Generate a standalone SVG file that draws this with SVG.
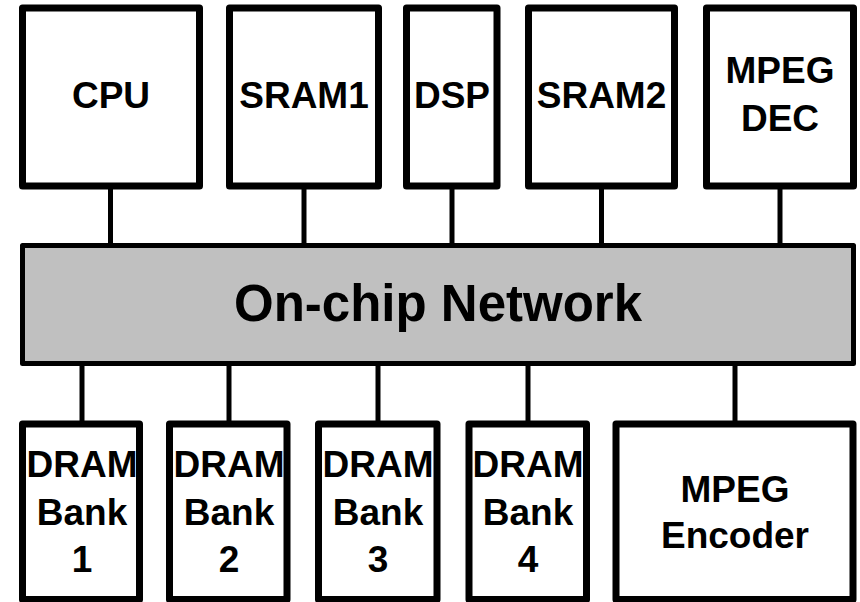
<svg xmlns="http://www.w3.org/2000/svg" width="860" height="602" viewBox="0 0 860 602">
<style>
.box{fill:#fff;stroke:#000;stroke-width:7;stroke-linejoin:round}
.net{fill:#c0c0c0;stroke:#000;stroke-width:5;stroke-linejoin:round}
.lbl{font-family:"Liberation Sans",Arial,sans-serif;font-weight:bold;font-size:37px;text-anchor:middle;fill:#000}
.big{font-size:51px}
.wire{stroke:#000;stroke-width:5;fill:none}
</style>
<rect width="860" height="602" fill="#fff"/>
<g id="connectors">
<line class="wire" x1="110.5" y1="186" x2="110.5" y2="246"/>
<line class="wire" x1="304" y1="186" x2="304" y2="246"/>
<line class="wire" x1="452" y1="186" x2="452" y2="246"/>
<line class="wire" x1="601.5" y1="186" x2="601.5" y2="246"/>
<line class="wire" x1="780" y1="186" x2="780" y2="246"/>
<line class="wire" x1="82" y1="364" x2="82" y2="424"/>
<line class="wire" x1="229" y1="364" x2="229" y2="424"/>
<line class="wire" x1="378" y1="364" x2="378" y2="424"/>
<line class="wire" x1="528" y1="364" x2="528" y2="424"/>
<line class="wire" x1="735" y1="364" x2="735" y2="424"/>
</g>
<g id="cpu"><rect class="box" x="22.5" y="8" width="177" height="178"/><text class="lbl" x="111" y="108">CPU</text></g>
<g id="sram1"><rect class="box" x="229.5" y="8" width="149" height="178"/><text class="lbl" x="304" y="108">SRAM1</text></g>
<g id="dsp"><rect class="box" x="406.5" y="8" width="90.5" height="178"/><text class="lbl" x="452" y="108">DSP</text></g>
<g id="sram2"><rect class="box" x="528.5" y="8" width="146" height="178"/><text class="lbl" x="601.5" y="108">SRAM2</text></g>
<g id="mpegdec"><rect class="box" x="706.5" y="8" width="147" height="178"/><text class="lbl" x="780" y="83">MPEG</text><text class="lbl" x="780" y="131">DEC</text></g>
<g id="network"><rect class="net" x="22.5" y="245.5" width="831" height="118"/><text class="lbl big" x="438" y="321">On-chip Network</text></g>
<g id="dram1"><rect class="box" x="22.5" y="424" width="117" height="175.5"/><text class="lbl" x="82" y="477">DRAM</text><text class="lbl" x="82" y="525">Bank</text><text class="lbl" x="82" y="572">1</text></g>
<g id="dram2"><rect class="box" x="169.5" y="424" width="117.5" height="175.5"/><text class="lbl" x="229" y="477">DRAM</text><text class="lbl" x="229" y="525">Bank</text><text class="lbl" x="229" y="572">2</text></g>
<g id="dram3"><rect class="box" x="318.5" y="424" width="118.5" height="175.5"/><text class="lbl" x="378" y="477">DRAM</text><text class="lbl" x="378" y="525">Bank</text><text class="lbl" x="378" y="572">3</text></g>
<g id="dram4"><rect class="box" x="469" y="424" width="117.5" height="175.5"/><text class="lbl" x="528" y="477">DRAM</text><text class="lbl" x="528" y="525">Bank</text><text class="lbl" x="528" y="572">4</text></g>
<g id="mpegenc"><rect class="box" x="616" y="424" width="237" height="175.5"/><text class="lbl" x="735" y="502">MPEG</text><text class="lbl" x="735" y="548">Encoder</text></g>
</svg>
